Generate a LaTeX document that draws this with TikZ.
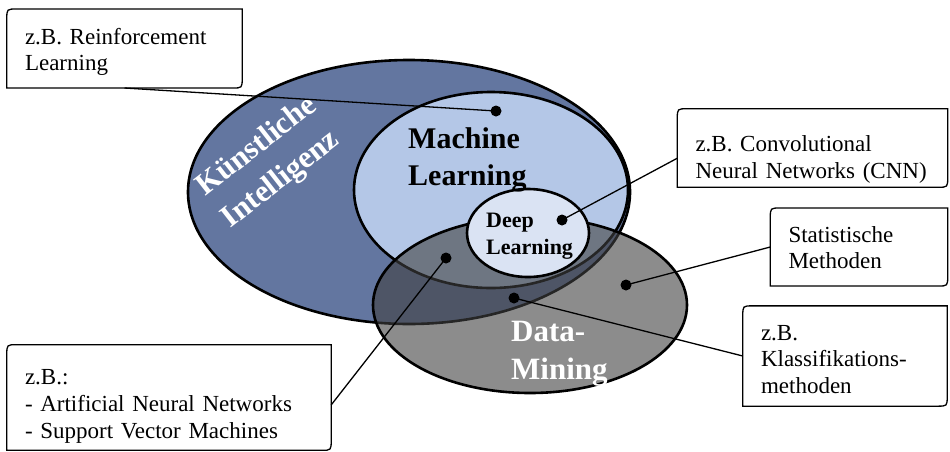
\documentclass[tikz,border=0pt]{standalone}
\usepackage{fontspec}
\setmainfont{Liberation Serif}
\usetikzlibrary{calc}

\definecolor{kiblue}{HTML}{6376A0}
\definecolor{mlblue}{HTML}{B4C7E7}
\definecolor{dlblue}{HTML}{DAE3F3}
\definecolor{dmgray}{HTML}{404040}

% invisible struts that fix the padding above the first and below the last line
\newcommand\calltop[1]{\rule{0pt}{#1pt}}
\newcommand\callbot[1]{\rule[-#1pt]{0pt}{#1pt}}

% callout frame: rounded top-left and bottom-right corners, square elsewhere
\newcommand\calloutframe[1]{%
  \draw[frameline] (#1.south west)
    -- ($(#1.north west)+(0,10)$) .. controls (#1.north west) .. ($(#1.north west)+(10,0)$)
    -- (#1.north east)
    -- ($(#1.south east)+(0,-10)$) .. controls (#1.south east) .. ($(#1.south east)+(-10,0)$)
    -- cycle;}

\begin{document}
\begin{tikzpicture}[x=1pt,y=-1pt,
  field/.style={draw=black,line width=2.6pt},
  frameline/.style={draw=black,line width=1.3pt},
  link/.style={draw=black,line width=1.3pt},
  callout/.style={inner xsep=18pt,inner ysep=0pt,align=left,
    font=\fontsize{23}{26.6}\selectfont},
  dot/.style={circle,fill=black,inner sep=0pt,minimum size=11pt},
  fieldlabel/.style={inner sep=0pt,align=left,anchor=west},
]
\useasboundingbox (0,0) rectangle (950,451);

% nested fields
\path[field,fill=kiblue] (409,192) ellipse [x radius=221, y radius=132];
\path[field,fill=mlblue] (491,190) ellipse [x radius=137, y radius=98];
\path[field,fill=dmgray,fill opacity=0.6] (530,305) ellipse [x radius=157, y radius=88];
\path[field,fill=dlblue] (528,233) ellipse [x radius=61, y radius=44];

% field labels
\node[inner sep=0pt,align=left,rotate=38,text=white,
      font=\fontsize{31}{41}\selectfont\bfseries] (ki) at (270,163)
  {Künstliche\\Intelligenz};
\node[fieldlabel,font=\fontsize{30}{37}\selectfont\bfseries] (ml) at (408,159.5)
  {Machine\\Learning};
\node[fieldlabel,font=\fontsize{22}{27}\selectfont\bfseries] (dl) at (486,236.5)
  {Deep\\Learning};
\node[fieldlabel,text=white,font=\fontsize{31}{38}\selectfont\bfseries] (dm) at (511,353.5)
  {Data-\\Mining};

% callouts
\node[callout,text width=199pt] (rl) at (124.5,48.5)
  {\calltop{35}z.B. Reinforcement\\Learning\callbot{17}};
\node[callout,text width=234pt] (cnn) at (812.5,148)
  {\calltop{42.5}z.B. Convolutional\\Neural Networks (CNN)\callbot{9}};
\node[callout,text width=141pt] (stat) at (859,247)
  {\calltop{34}Statistische\\Methoden\callbot{17}};
\node[callout,text width=168pt] (klass) at (845,356)
  {\calltop{34}z.B.\\Klassifikations-\\methoden\callbot{12.7}};
\node[callout,text width=288pt] (ann) at (169,397.5)
  {\calltop{40}z.B.:\\- Artificial Neural Networks\\- Support Vector Machines\callbot{12}};

\foreach \b in {rl,cnn,stat,klass,ann} {\calloutframe{\b}}

% markers
\node[dot] (rlp) at (496,111) {};
\node[dot] (cnnp) at (562,220) {};
\node[dot] (annp) at (446,258) {};
\node[dot] (statp) at (626,285) {};
\node[dot] (klassp) at (514,298) {};

% connectors
\draw[link] (rl.south) -- (rlp.center);
\draw[link] ($(cnn.north west)!0.63!(cnn.south west)$) -- (cnnp.center);
\draw[link] (stat.west) -- (statp.center);
\draw[link] (klass.west) -- (klassp.center);
\draw[link] ($(ann.north east)!0.57!(ann.south east)$) -- (annp.center);
\end{tikzpicture}
\end{document}
